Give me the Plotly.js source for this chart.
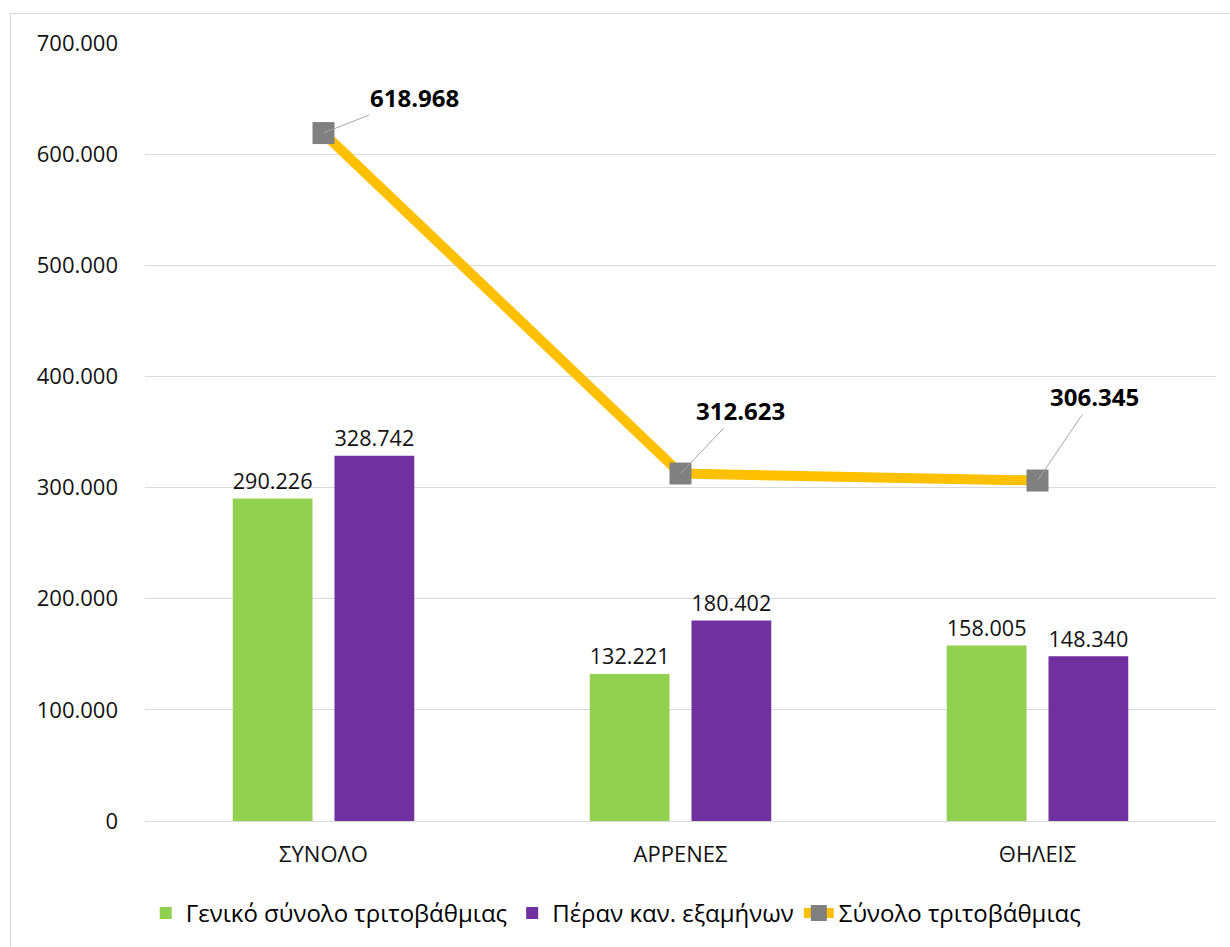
<!DOCTYPE html>
<html>
<head>
<meta charset="utf-8">
<script src="https://cdn.plot.ly/plotly-3.0.1.min.js"></script>
<style>
  body { margin: 0; background: #fff; }
  #frame { position: absolute; left: 10px; top: 13px; width: 1230px; height: 960px; border: 1px solid #D9D9D9; }
  #chart { position: absolute; left: 0; top: 0; width: 1230px; height: 947px; }
</style>
</head>
<body>
<div id="frame"></div>
<div id="chart"></div>
<script>
// categories and values
var categories = ['ΣΥΝΟΛΟ', 'ΑΡΡΕΝΕΣ', 'ΘΗΛΕΙΣ'];
var genikoSynolo = [290226, 132221, 158005];
var peranExamhnwn = [328742, 180402, 148340];
var synoloTritovathmias = [618968, 312623, 306345];

var fontFam = 'Open Sans, Liberation Sans, sans-serif';

var greenTrace = {
  x: categories,
  y: genikoSynolo,
  type: 'bar',
  name: 'Γενικό σύνολο τριτοβάθμιας',
  marker: { color: '#92D050' },
  texttemplate: '%{y:,d}',
  textposition: 'outside',
  textfont: { size: 23, color: '#111', family: fontFam },
  cliponaxis: false
};

var purpleTrace = {
  x: categories,
  y: peranExamhnwn,
  type: 'bar',
  name: 'Πέραν καν. εξαμήνων',
  marker: { color: '#7030A0' },
  texttemplate: '%{y:,d}',
  textposition: 'outside',
  textfont: { size: 23, color: '#111', family: fontFam },
  cliponaxis: false
};

var lineTrace = {
  x: categories,
  y: synoloTritovathmias,
  type: 'scatter',
  mode: 'lines+markers',
  name: 'Σύνολο τριτοβάθμιας',
  line: { color: '#FFC000', width: 10 },
  marker: { color: '#808080', symbol: 'square', size: 22 }
};

// offsets of the bold labels from each point, in pixels
var labelOffsetX = [91, 60, 57];
var labelOffsetY = [-36, -63, -84];

var annotations = [];
for (var i = 0; i < categories.length; i++) {
  annotations.push({
    x: categories[i],
    y: synoloTritovathmias[i],
    text: '<b>' + synoloTritovathmias[i].toLocaleString('de-DE') + '</b>',
    showarrow: true,
    arrowhead: 0,
    arrowwidth: 1,
    arrowcolor: '#A6A6A6',
    ax: labelOffsetX[i],
    ay: labelOffsetY[i],
    font: { size: 24, color: '#000', family: fontFam }
  });
}

var layout = {
  width: 1230,
  height: 947,
  paper_bgcolor: 'rgba(0,0,0,0)',
  plot_bgcolor: 'rgba(0,0,0,0)',
  margin: { l: 145, r: 14, t: 43, b: 126, autoexpand: false },
  separators: ',.',
  barmode: 'group',
  bargap: 0.43,
  bargroupgap: 0.216,
  font: { family: fontFam, size: 22, color: '#111' },
  xaxis: {
    tickfont: { size: 22, color: '#111' },
    showgrid: false,
    showline: true,
    linecolor: '#D9D9D9',
    ticks: '',
    tickangle: 0,
    ticklabelstandoff: 14
  },
  yaxis: {
    range: [0, 700000],
    dtick: 100000,
    tickformat: ',d',
    tickfont: { size: 22, color: '#111' },
    gridcolor: '#D9D9D9',
    zeroline: false,
    ticks: '',
    ticklabelstandoff: 26
  },
  legend: {
    orientation: 'h',
    x: 0.44,
    xanchor: 'center',
    y: -0.09,
    yanchor: 'top',
    font: { size: 24, color: '#000' },
    traceorder: 'normal'
  },
  annotations: annotations,
  showlegend: true
};

Plotly.newPlot('chart', [greenTrace, purpleTrace, lineTrace], layout, { displayModeBar: false });
</script>
</body>
</html>
